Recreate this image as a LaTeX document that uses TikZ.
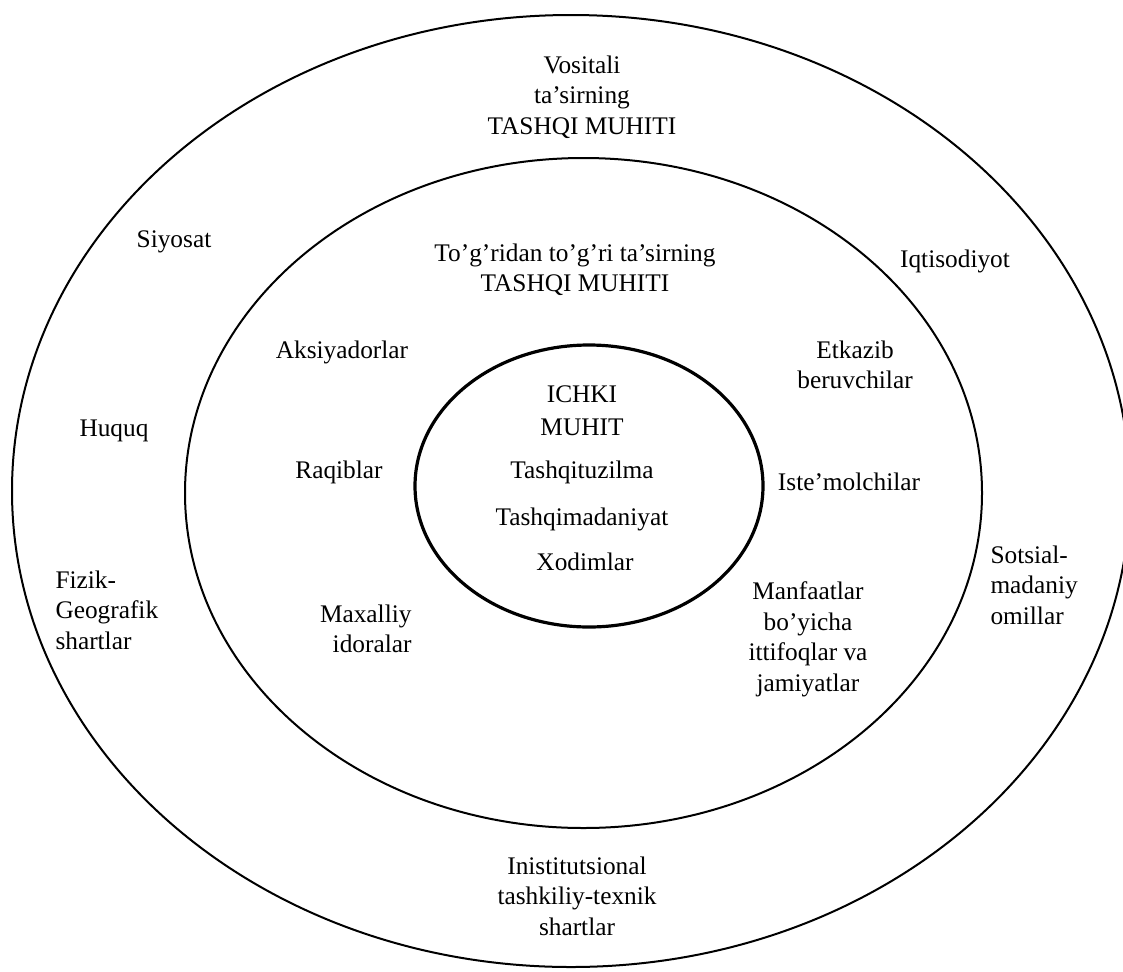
\documentclass[tikz,border=0pt]{standalone}
\usepackage{fontspec}
\setmainfont{Liberation Serif}

\tikzset{every picture/.style={line width=0.75pt}}
\tikzset{lbl/.style={inner sep=0pt, font=\fontsize{19}{23}\selectfont}}

\begin{document}
\begin{tikzpicture}[x=0.75pt,y=0.75pt,yscale=-1,xscale=1]
    \useasboundingbox (0,0) rectangle (1123,971);
    %Shape: Ellipse (outer)
    \draw [line width=1.5pt]  (571,491) ellipse (559 and 476);
    %Shape: Ellipse (middle)
    \draw [line width=1.5pt]  (583.5,493) ellipse (398.5 and 335);
    %Shape: Ellipse (inner)
    \draw [line width=2.4pt]  (589,486) ellipse (174 and 141);
    % Text Node
    \node (vositali) at (582,55) [lbl, anchor=north, align=center] {Vositali\\ta’sirning\\TASHQI MUHITI};
    % Text Node
    \node (togridan) at (575,243) [lbl, anchor=north, align=center] {To’g’ridan to’g’ri ta’sirning\\TASHQI MUHITI};
    % Text Node
    \node (siyosat) at (174,247) [lbl, anchor=base] {Siyosat};
    % Text Node
    \node (iqtisod) at (955,267) [lbl, anchor=base] {Iqtisodiyot};
    % Text Node
    \node (huquq) at (114,436) [lbl, anchor=base] {Huquq};
    % Text Node
    \node (fizik) at (55,570) [lbl, anchor=north west, align=left] {Fizik-\\Geografik\\shartlar};
    % Text Node
    \node (sotsial) at (990,545) [lbl, anchor=north west, align=left] {Sotsial-\\madaniy\\omillar};
    % Text Node
    \node (inistit) at (577,856) [lbl, anchor=north, align=center] {Inistitutsional\\tashkiliy-texnik\\shartlar};
    % Text Node
    \node (aksiya) at (342,358) [lbl, anchor=base] {Aksiyadorlar};
    % Text Node
    \node (raqib) at (339,478) [lbl, anchor=base] {Raqiblar};
    % Text Node
    \node (maxalliy) at (412,604) [lbl, anchor=north east, align=right] {Maxalliy\\idoralar};
    % Text Node
    \node (etkazib) at (855,340) [lbl, anchor=north, align=center] {Etkazib\\beruvchilar};
    % Text Node
    \node (istemol) at (849,490) [lbl, anchor=base] {Iste’molchilar};
    % Text Node
    \node (manfaat) at (808,581) [lbl, anchor=north, align=center] {Manfaatlar\\bo’yicha\\ittifoqlar va\\jamiyatlar};
    % Text Node
    \node (ichki) at (582,385) [lbl, anchor=north, align=center] {ICHKI\\[2pt]MUHIT};
    % Text Node
    \node (tuzilma) at (582,478) [lbl, anchor=base] {Tashqituzilma};
    % Text Node
    \node (madaniyat) at (582,525) [lbl, anchor=base] {Tashqimadaniyat};
    % Text Node
    \node (xodim) at (585,570) [lbl, anchor=base] {Xodimlar};
\end{tikzpicture}
\end{document}
